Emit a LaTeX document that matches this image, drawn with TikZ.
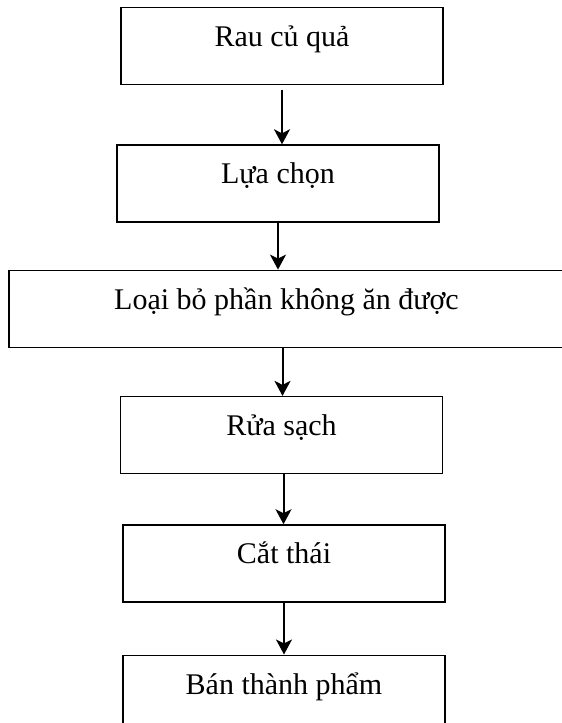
\documentclass[tikz,border=0pt]{standalone}
\usepackage{fontspec}
\setmainfont{Liberation Serif}
\usetikzlibrary{positioning,arrows.meta}
\begin{document}
\begin{tikzpicture}[x=1pt,y=1pt,
	hop/.style={draw,line width=1.3pt,minimum width=322pt,inner sep=0pt,text height=39pt,text depth=38pt,font=\fontsize{30}{36}\selectfont},
	arr/.style={-{Stealth[length=15pt,width=16pt,inset=4pt]},line width=2pt}]
\clip (0,0) rectangle (562,-723);
\node [hop,anchor=north] (1) at (282,-7) {Rau củ quả};
\node [hop,below=59pt of 1,xshift=-4pt] (2) {Lựa chọn};
\node [hop,below=47pt of 2,xshift=8.5pt,minimum width=555pt] (3) {Loại bỏ phần không ăn được};
\node [hop,below=48pt of 3,xshift=-5pt] (4) {Rửa sạch};
\node [hop,below=50pt of 4,xshift=2.5pt] (5) {Cắt thái};
\node [hop,below=52pt of 5] (6) {Bán thành phẩm};
% mui ten giua cac buoc
\draw[arr,shorten <=5pt] (1.south) -- (1.south |- 2.north);
\draw[arr] (2.south) -- (2.south |- 3.north);
\draw[arr] ([xshift=-4pt]3.south) -- ([xshift=-4pt]3.south |- 4.north);
\draw[arr] ([xshift=2pt]4.south) -- ([xshift=2pt]4.south |- 5.north);
\draw[arr] (5.south) -- (5.south |- 6.north);
\end{tikzpicture}
\end{document}
